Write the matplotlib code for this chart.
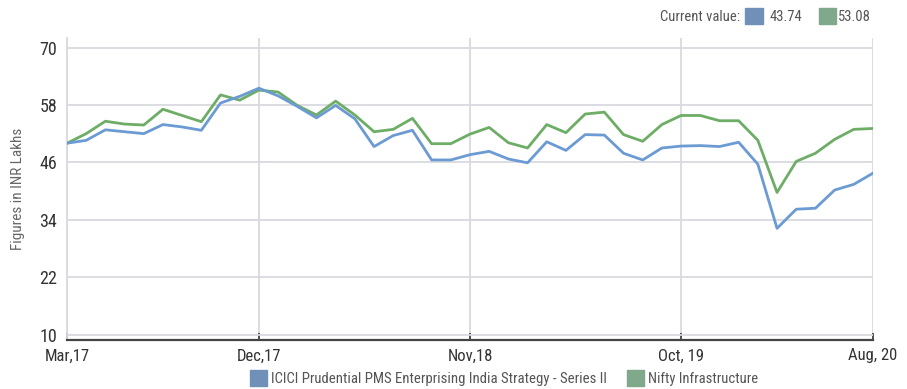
import matplotlib
matplotlib.use("Agg")
import matplotlib.pyplot as plt
from matplotlib.patches import Rectangle

plt.rcParams['font.family'] = ['Roboto Condensed', 'Archivo Narrow', 'DejaVu Sans']

# monthly values, Feb 2017 .. Aug 2020
fund = [50.0, 50.6, 52.8, 52.4, 52.0, 53.9, 53.4, 52.7, 58.4, 59.8,
        61.5, 59.9, 57.7, 55.3, 57.9, 55.1, 49.3, 51.6, 52.7, 46.5,
        46.5, 47.6, 48.3, 46.7, 45.9, 50.3, 48.5, 51.8, 51.7, 47.9,
        46.5, 49.0, 49.4, 49.5, 49.3, 50.2, 45.6, 32.2, 36.2, 36.4,
        40.2, 41.4, 43.74]
nifty = [50.0, 52.0, 54.6, 54.0, 53.8, 57.1, 55.8, 54.5, 60.1, 59.0,
         61.1, 60.7, 57.9, 55.9, 58.8, 55.9, 52.4, 52.9, 55.2, 49.9,
         49.9, 51.9, 53.3, 50.1, 49.0, 53.9, 52.2, 56.1, 56.5, 51.8,
         50.4, 53.9, 55.8, 55.8, 54.7, 54.7, 50.6, 39.7, 46.2, 47.9,
         50.8, 52.9, 53.08]
tick_pos = [0, 10, 21, 32, 42]
tick_labels = ["Mar,17", "Dec,17", "Nov,18", "Oct, 19", "Aug, 20"]
y_ticks = [10, 22, 34, 46, 58, 70]
series_names = ["ICICI Prudential PMS Enterprising India Strategy - Series II",
                "Nifty Infrastructure"]

line_blue = "#6b9bd2"
line_green = "#6dad66"
patch_blue = "#7190b8"
patch_green = "#80a88b"
grid_col = "#d9d9e0"
text_col = "#555555"

fig = plt.figure(figsize=(9.07, 3.89), dpi=100)
ax = fig.add_axes([67 / 907, 49 / 389, 806 / 907, 302 / 389])

x = list(range(len(fund)))
ax.plot(x, nifty, color=line_green, lw=2.0, zorder=3)
ax.plot(x, fund, color=line_blue, lw=2.0, zorder=4)

ax.set_xlim(0, len(fund) - 1)
ax.set_ylim(8.85, 72)
ax.set_yticks(y_ticks)
ax.set_xticks(tick_pos)
ax.set_xticklabels(tick_labels)

ax.grid(True, color=grid_col, lw=1.3, zorder=0)
ax.set_axisbelow(True)
for s in ["top", "right"]:
    ax.spines[s].set_visible(False)
ax.spines["left"].set_color(grid_col)
ax.spines["left"].set_linewidth(1.3)
ax.spines["bottom"].set_color("#444444")
ax.spines["bottom"].set_linewidth(1.6)

ax.tick_params(axis="y", length=0, pad=7, labelsize=13, labelcolor="#333333")
ax.tick_params(axis="x", direction="in", length=5, width=1.3, color="#444444",
               pad=6, labelsize=12, labelcolor="#333333")

ax.set_ylabel("Figures in INR Lakhs", fontsize=11, color="#666666", labelpad=10)

# header: current values
def fig_patch(x0, y0, w, h, color):
    fig.patches.append(Rectangle((x0 / 907, 1 - (y0 + h) / 389), w / 907, h / 389,
                                 transform=fig.transFigure, color=color))

fig.text(740 / 907, 1 - 17 / 389, "Current value:", ha="right", va="center",
         fontsize=10.5, color=text_col)
fig_patch(745, 8, 18, 16, patch_blue)
fig.text(770 / 907, 1 - 17 / 389, f"{fund[-1]:.2f}", ha="left", va="center",
         fontsize=10.5, color=text_col)
fig_patch(819, 8, 17, 16, patch_green)
fig.text(838 / 907, 1 - 17 / 389, f"{nifty[-1]:.2f}", ha="left", va="center",
         fontsize=10.5, color=text_col)

# bottom legend
fig_patch(250, 370, 17, 16, patch_blue)
fig.text(271 / 907, 1 - 379 / 389, series_names[0], ha="left", va="center",
         fontsize=10.6, color=text_col)
fig_patch(627, 370, 17, 16, patch_green)
fig.text(648 / 907, 1 - 379 / 389, series_names[1], ha="left", va="center",
         fontsize=10.5, color=text_col)

fig.savefig("out.png", dpi=100)
